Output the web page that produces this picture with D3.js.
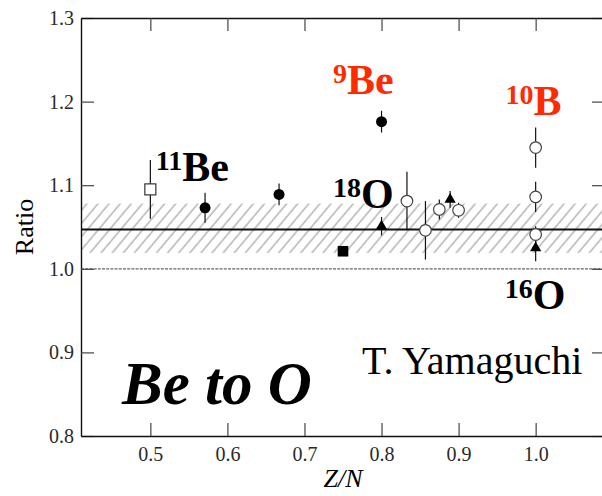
<!DOCTYPE html>
<html>
<head>
<meta charset="utf-8">
<script src="https://cdn.jsdelivr.net/npm/d3@7"></script>
<style>
  body { margin: 0; background: #fff; }
  svg { display: block; }
</style>
</head>
<body>
<div id="chart"></div>
<script>
// Ratio vs Z/N, Be to O isotopes
const filledCircleZN = [0.571, 0.667, 0.8];
const filledCircleRatio = [1.073, 1.089, 1.176];
const filledCircleErr = [0.018, 0.013, 0.013];

const openSquareZN = [0.5];
const openSquareRatio = [1.095];
const openSquareErr = [0.035];

const filledSquareZN = [0.75];
const filledSquareRatio = [1.021];
const filledSquareErr = [0];

const triangleZN = [0.8, 0.889, 1.0];
const triangleRatio = [1.051, 1.083, 1.025];
const triangleErr = [0.011, 0.01, 0.016];

const openCircleZN = [0.833, 0.857, 0.875, 0.9, 1.0, 1.0, 1.0];
const openCircleRatio = [1.081, 1.046, 1.071, 1.070, 1.145, 1.086, 1.041];
const openCircleErr = [0.035, 0.035, 0.012, 0.009, 0.024, 0.018, 0.01];

const meanRatio = 1.047;
const bandLow = 1.019;
const bandHigh = 1.078;
const unityRatio = 1.0;

const xTicks = [0.5, 0.6, 0.7, 0.8, 0.9, 1.0];
const yTicks = [0.8, 0.9, 1.0, 1.1, 1.2, 1.3];

// nucleus labels: superscript, symbol, anchor in data units, colour
const labelSup = ["11", "9", "10", "18", "16"];
const labelSym = ["Be", "Be", "B", "O", "O"];
const labelZN = [0.507, 0.737, 0.961, 0.737, 0.960];
const labelRatio = [1.105, 1.209, 1.184, 1.073, 0.952];
const labelColor = ["#000", "#ff2a00", "#ff2a00", "#000", "#000"];

const SERIF = "'Liberation Serif', 'Times New Roman', serif";
const W = 602, H = 496;
const margin = { top: 18, right: -3, bottom: 60, left: 81 };

const svg = d3.select("#chart").append("svg")
    .attr("width", W)
    .attr("height", H);

const x = d3.scaleLinear().domain([0.41, 1.09]).range([margin.left, W - margin.right]);
const y = d3.scaleLinear().domain([0.8, 1.3]).range([H - margin.bottom, margin.top]);

// hatch pattern for the band
const defs = svg.append("defs");
defs.append("pattern")
    .attr("id", "hatch")
    .attr("patternUnits", "userSpaceOnUse")
    .attr("width", 8.5)
    .attr("height", 8.5)
    .attr("patternTransform", "rotate(40)")
    .append("line")
    .attr("x1", 2).attr("y1", 0)
    .attr("x2", 2).attr("y2", 8.5)
    .attr("stroke", "#9a9a9a")
    .attr("stroke-width", 1.1);

svg.append("rect")
    .attr("x", x(0.41))
    .attr("width", x(1.09) - x(0.41))
    .attr("y", y(bandHigh))
    .attr("height", y(bandLow) - y(bandHigh))
    .attr("fill", "url(#hatch)");

// unity reference line
svg.append("line")
    .attr("x1", x(0.41)).attr("x2", x(1.09))
    .attr("y1", y(unityRatio)).attr("y2", y(unityRatio))
    .attr("stroke", "#666")
    .attr("stroke-width", 1.3)
    .attr("stroke-dasharray", "3,1.2");

// mean line
svg.append("line")
    .attr("x1", x(0.41)).attr("x2", x(1.09))
    .attr("y1", y(meanRatio)).attr("y2", y(meanRatio))
    .attr("stroke", "#111")
    .attr("stroke-width", 2);

// axes, ticks inward
function styleAxis(g) {
    g.attr("font-family", SERIF).attr("font-size", 20);
    g.select(".domain").attr("stroke", "#111").attr("stroke-width", 1.4);
    g.selectAll(".tick line").attr("stroke", "#444").attr("stroke-width", 1.2);
    g.selectAll(".tick text").attr("fill", "#2a2a2a");
}

svg.append("g")
    .attr("transform", `translate(${margin.left},0)`)
    .call(d3.axisLeft(y).tickValues(yTicks).tickFormat(d3.format(".1f")).tickSize(-13).tickSizeOuter(0).tickPadding(7))
    .call(styleAxis);

svg.append("g")
    .attr("transform", `translate(${W - margin.right},0)`)
    .call(d3.axisRight(y).tickValues(yTicks).tickFormat("").tickSize(-13).tickSizeOuter(0))
    .call(styleAxis);

svg.append("g")
    .attr("transform", `translate(0,${H - margin.bottom})`)
    .call(d3.axisBottom(x).tickValues(xTicks).tickFormat(d3.format(".1f")).tickSize(-13).tickSizeOuter(0).tickPadding(11))
    .call(styleAxis);

svg.append("g")
    .attr("transform", `translate(0,${margin.top})`)
    .call(d3.axisTop(x).tickValues(xTicks).tickFormat("").tickSize(-13).tickSizeOuter(0))
    .call(styleAxis);

// axis titles
svg.append("text")
    .attr("transform", `translate(33,${(y(0.8) + y(1.3)) / 2}) rotate(-90)`)
    .attr("text-anchor", "middle")
    .attr("font-family", SERIF)
    .attr("font-size", 26)
    .text("Ratio");

svg.append("text")
    .attr("x", (x(0.41) + x(1.09)) / 2)
    .attr("y", 487)
    .attr("text-anchor", "middle")
    .attr("font-family", SERIF)
    .attr("font-style", "italic")
    .attr("font-size", 26)
    .text("Z/N");

// build series rows
function rows(zn, r, e) {
    return zn.map((d, i) => ({ zn: d, ratio: r[i], err: e[i] }));
}
const filledCircles = rows(filledCircleZN, filledCircleRatio, filledCircleErr);
const openSquares = rows(openSquareZN, openSquareRatio, openSquareErr);
const filledSquares = rows(filledSquareZN, filledSquareRatio, filledSquareErr);
const triangles = rows(triangleZN, triangleRatio, triangleErr);
const openCircles = rows(openCircleZN, openCircleRatio, openCircleErr);

// error bars
const allPoints = [].concat(filledCircles, openSquares, filledSquares, triangles, openCircles);
svg.append("g").selectAll("line")
    .data(allPoints.filter(d => d.err > 0))
    .enter()
    .append("line")
    .attr("x1", d => x(d.zn)).attr("x2", d => x(d.zn))
    .attr("y1", d => y(d.ratio + d.err))
    .attr("y2", d => y(d.ratio - d.err))
    .attr("stroke", "#111")
    .attr("stroke-width", 1.2);

// markers
svg.append("g").selectAll("circle")
    .data(openCircles)
    .enter()
    .append("circle")
    .attr("cx", d => x(d.zn))
    .attr("cy", d => y(d.ratio))
    .attr("r", 5.8)
    .attr("fill", "#fff")
    .attr("stroke", "#444")
    .attr("stroke-width", 1.2);

svg.append("g").selectAll("circle")
    .data(filledCircles)
    .enter()
    .append("circle")
    .attr("cx", d => x(d.zn))
    .attr("cy", d => y(d.ratio))
    .attr("r", 5.5)
    .attr("fill", "#000");

svg.append("g").selectAll("rect")
    .data(openSquares)
    .enter()
    .append("rect")
    .attr("x", d => x(d.zn) - 5.5)
    .attr("y", d => y(d.ratio) - 5.5)
    .attr("width", 11).attr("height", 11)
    .attr("fill", "#fff")
    .attr("stroke", "#333")
    .attr("stroke-width", 1.2);

svg.append("g").selectAll("rect")
    .data(filledSquares)
    .enter()
    .append("rect")
    .attr("x", d => x(d.zn) - 5.3)
    .attr("y", d => y(d.ratio) - 5.3)
    .attr("width", 10.6).attr("height", 10.6)
    .attr("fill", "#000");

svg.append("g").selectAll("path")
    .data(triangles)
    .enter()
    .append("path")
    .attr("transform", d => `translate(${x(d.zn)},${y(d.ratio)})`)
    .attr("d", d3.symbol().type(d3.symbolTriangle).size(55))
    .attr("fill", "#000");

// nucleus labels
labelSym.forEach((sym, i) => {
    const t = svg.append("text")
        .attr("x", x(labelZN[i]))
        .attr("y", y(labelRatio[i]))
        .attr("fill", labelColor[i])
        .attr("font-family", SERIF)
        .attr("font-weight", "bold");
    t.append("tspan")
        .attr("dy", -11)
        .attr("font-size", 28)
        .text(labelSup[i]);
    t.append("tspan")
        .attr("dy", 11)
        .attr("font-size", 42)
        .text(sym);
});

// overlay text
svg.append("text")
    .attr("x", 122)
    .attr("y", 404)
    .attr("font-family", SERIF)
    .attr("font-weight", "bold")
    .attr("font-style", "italic")
    .attr("font-size", 61)
    .text("Be to O");

svg.append("text")
    .attr("x", 362)
    .attr("y", 374)
    .attr("font-family", SERIF)
    .attr("font-size", 40)
    .text("T. Yamaguchi");
</script>
</body>
</html>
